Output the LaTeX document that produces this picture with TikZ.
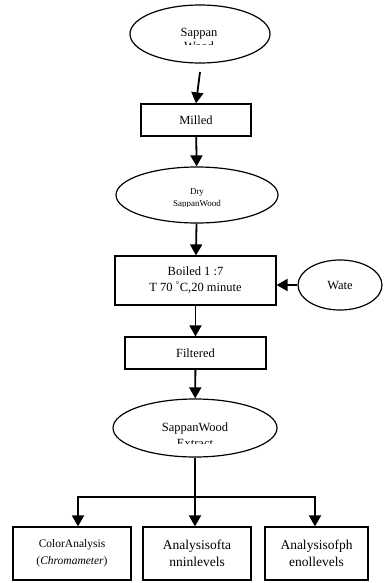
\documentclass[tikz,border=0pt]{standalone}
\usepackage{fontspec}
\setmainfont{Liberation Serif}
\usetikzlibrary{arrows.meta,shapes.geometric}

\tikzset{
  stepbox/.style={draw,line width=1.2pt,inner sep=0pt,align=center,
    font=\fontsize{12.5}{16}\selectfont},
  oval/.style={draw,line width=1.2pt,ellipse,inner sep=0pt},
  ovaltext/.style={align=center,font=\fontsize{12.5}{16}\selectfont},
  flow/.style={line width=1.8pt,-{Triangle[width=12pt,length=11pt]}}
}

\begin{document}
\begin{tikzpicture}[x=1pt,y=-1pt]
\useasboundingbox (0,0) rectangle (383,583);

% process chain
\node[oval,minimum width=140,minimum height=58] (sappan) at (200,34) {};
\begin{scope}
  \clip (120,0) rectangle (280,45);
  \node[ovaltext,font=\fontsize{12.5}{14}\selectfont] (sappantxt) at (199,39.5) {Sappan\\Wood};
\end{scope}

\node[stepbox,minimum width=110,minimum height=32] (milled) at (196,120) {Milled};

\node[oval,minimum width=162,minimum height=56] (dry) at (197,195) {};
\begin{scope}
  \clip (110,160) rectangle (285,206);
  \node[ovaltext,font=\fontsize{9}{12}\selectfont] (drytxt) at (197,199) {Dry\\SappanWood};
\end{scope}

\node[stepbox,minimum width=161,minimum height=49] (boiled) at (195.5,280.5)
  {Boiled 1 :7\\T 70 \textsuperscript{°}C,20 minute};
\node[oval,minimum width=84,minimum height=50] (water) at (340,285)
  {\fontsize{12.5}{14}\selectfont Wate};

\node[stepbox,minimum width=141,minimum height=32] (filtered) at (195.5,353) {Filtered};

\node[oval,minimum width=164,minimum height=58] (extract) at (195,428) {};
\begin{scope}
  \clip (110,395) rectangle (285,443);
  \node[ovaltext] (extracttxt) at (195,435) {SappanWood\\Extract};
\end{scope}

% analyses
\node[stepbox,minimum width=118,minimum height=53,font=\fontsize{11.5}{17}\selectfont]
  (color) at (72,553.5) {ColorAnalysis\\(\textit{Chromameter})};
\node[stepbox,minimum width=108,minimum height=53,font=\fontsize{13.5}{17}\selectfont]
  (tannin) at (197,553.5) {Analysisofta\\nninlevels};
\node[stepbox,minimum width=103,minimum height=53,font=\fontsize{13.5}{17}\selectfont]
  (phenol) at (316.5,553.5) {Analysisofph\\enollevels};

\coordinate (split) at (195,497);

\draw[flow] (sappan.south |- 0,72) -- (milled.north);
\draw[flow] (milled) -- (dry);
\draw[flow] (dry) -- (boiled);
\draw[flow] (water) -- (boiled.east |- water.west);
\draw[flow] (boiled.south -| filtered.north) -- (filtered.north);
\draw[flow] (filtered) -- (extract);
\draw[flow] (extract.south) -- (extract.south |- tannin.north);
\draw[flow] (split) -| ([xshift=6pt]color.north);
\draw[flow] (split) -| ([xshift=-1.5pt]phenol.north);

\end{tikzpicture}
\end{document}
